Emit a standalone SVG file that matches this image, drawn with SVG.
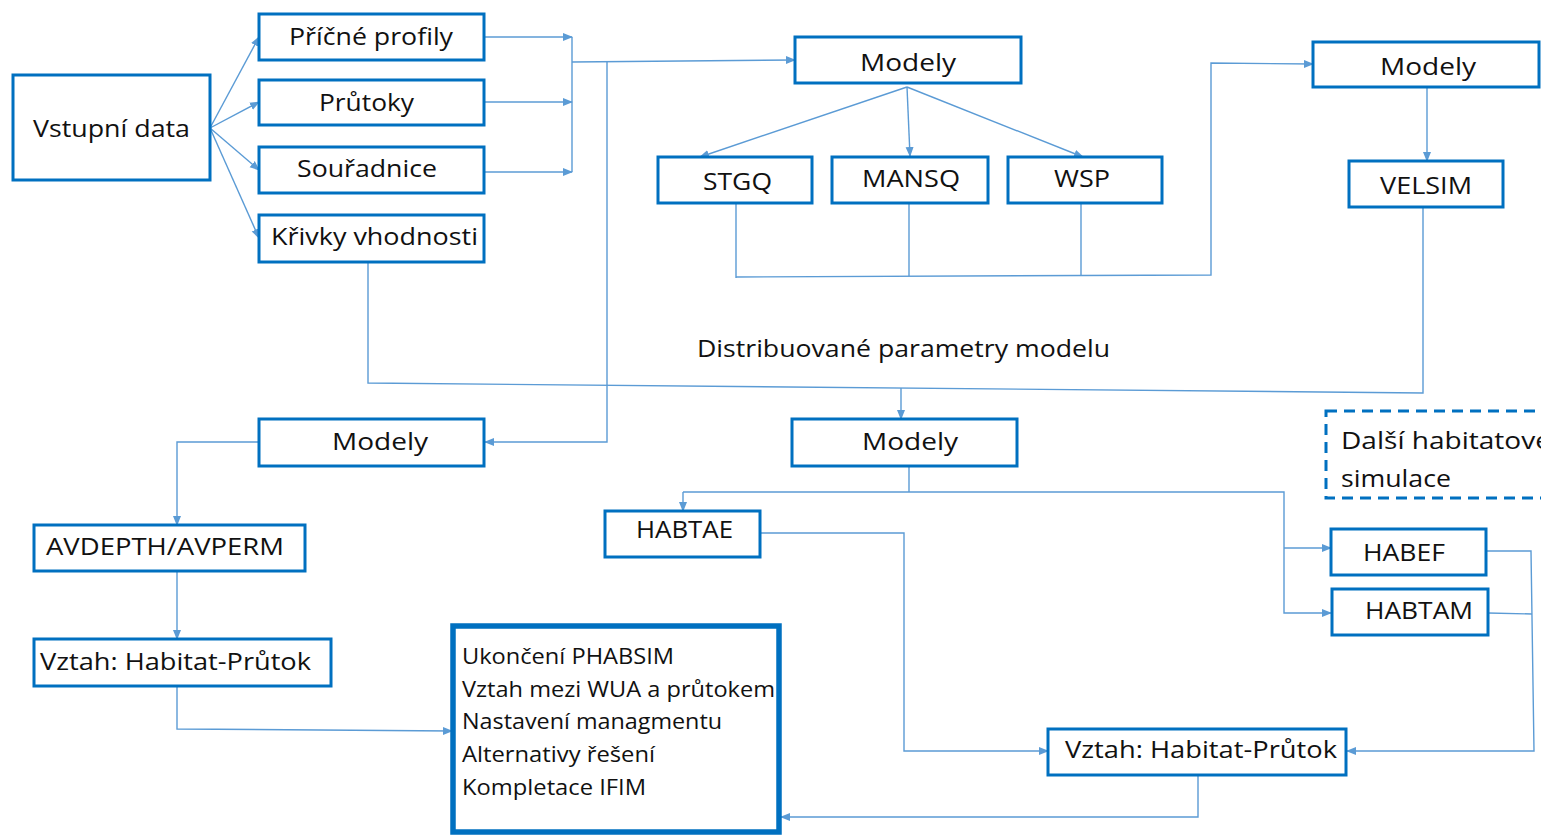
<svg xmlns="http://www.w3.org/2000/svg" width="1541" height="835" viewBox="0 0 1541 835">
<style>
.box{fill:#fff;stroke:#0070C0;stroke-width:3}
.big{fill:#fff;stroke:#0070C0;stroke-width:5.5}
.dash{fill:none;stroke:#0070C0;stroke-width:3;stroke-dasharray:11 7}
.c{fill:none;stroke:#5B9BD5;stroke-width:1.4}
.a{marker-end:url(#ah)}
text{font-family:"Open Sans","Noto Sans","Liberation Sans",sans-serif;font-size:24px;fill:#111}
.s{font-size:22px}
</style>
<defs>
<marker id="ah" markerUnits="userSpaceOnUse" markerWidth="10" markerHeight="10" viewBox="0 0 10 10" refX="9" refY="5" orient="auto">
<path d="M0,1 L10,5 L0,9 z" fill="#5B9BD5"/>
</marker>
</defs>
<rect width="1541" height="835" fill="#fff"/>
<g id="connectors">
<path class="c a" d="M210,128 L259,37"/>
<path class="c a" d="M210,128 L259,102"/>
<path class="c a" d="M210,128 L259,170"/>
<path class="c a" d="M210,128 L259,238"/>
<path class="c a" d="M484,37 L572,37"/>
<path class="c a" d="M484,102 L572,102"/>
<path class="c a" d="M484,172 L572,172"/>
<path class="c" d="M572,37 L572,172"/>
<path class="c a" d="M572,62 L795,60"/>
<path class="c a" d="M607,62 L607,442 L485,442"/>
<path class="c a" d="M907,87 L700,157"/>
<path class="c a" d="M907,87 L910,156"/>
<path class="c a" d="M907,87 L1083,157"/>
<path class="c" d="M736,203 L736,278"/>
<path class="c" d="M909,203 L909,276"/>
<path class="c" d="M1081,203 L1081,276"/>
<path class="c a" d="M736,277 L1211,275 L1211,63 L1313,64"/>
<path class="c a" d="M1427,87 L1427,161"/>
<path class="c" d="M368,262 L368,383 L1423,393 L1423,207"/>
<path class="c a" d="M901,388 L901,419"/>
<path class="c a" d="M259,442 L177,442 L177,525"/>
<path class="c a" d="M177,571 L177,639"/>
<path class="c a" d="M177,686 L177,729 L452,731"/>
<path class="c" d="M909,466 L909,492"/>
<path class="c a" d="M683,492 L1284,492 L1284,613 L1331,613"/>
<path class="c a" d="M683,492 L683,511"/>
<path class="c a" d="M1284,548 L1331,548"/>
<path class="c a" d="M760,533 L904,533 L904,751 L1048,751"/>
<path class="c" d="M1488,613 L1532,614"/>
<path class="c a" d="M1486,551 L1531,551 L1534,751 L1347,751"/>
<path class="c a" d="M1198,775 L1198,817 L781,817"/>
</g>
<g id="vstupni"><rect class="box" x="13" y="75" width="197" height="105"/><text x="33" y="137" textLength="157" lengthAdjust="spacingAndGlyphs">Vstupní data</text></g>
<g id="pricne"><rect class="box" x="259" y="14" width="225" height="46"/><text x="289" y="45" textLength="164" lengthAdjust="spacingAndGlyphs">Příčné profily</text></g>
<g id="prutoky"><rect class="box" x="259" y="80" width="225" height="45"/><text x="319" y="111" textLength="95" lengthAdjust="spacingAndGlyphs">Průtoky</text></g>
<g id="souradnice"><rect class="box" x="259" y="147" width="225" height="46"/><text x="297" y="177" textLength="140" lengthAdjust="spacingAndGlyphs">Souřadnice</text></g>
<g id="krivky"><rect class="box" x="259" y="215" width="225" height="47"/><text x="271" y="245" textLength="207" lengthAdjust="spacingAndGlyphs">Křivky vhodnosti</text></g>
<g id="modely1"><rect class="box" x="795" y="37" width="226" height="46"/><text x="860" y="71" textLength="96" lengthAdjust="spacingAndGlyphs">Modely</text></g>
<g id="stgq"><rect class="box" x="658" y="157" width="154" height="46"/><text x="703" y="190" textLength="69" lengthAdjust="spacingAndGlyphs">STGQ</text></g>
<g id="mansq"><rect class="box" x="832" y="157" width="156" height="46"/><text x="862" y="187" textLength="98" lengthAdjust="spacingAndGlyphs">MANSQ</text></g>
<g id="wsp"><rect class="box" x="1008" y="157" width="154" height="46"/><text x="1054" y="187" textLength="56" lengthAdjust="spacingAndGlyphs">WSP</text></g>
<g id="modely2"><rect class="box" x="1313" y="42" width="226" height="45"/><text x="1380" y="75" textLength="96" lengthAdjust="spacingAndGlyphs">Modely</text></g>
<g id="velsim"><rect class="box" x="1349" y="161" width="154" height="46"/><text x="1380" y="194" textLength="92" lengthAdjust="spacingAndGlyphs">VELSIM</text></g>
<g id="label"><text x="697" y="357" textLength="413" lengthAdjust="spacingAndGlyphs">Distribuované parametry modelu</text></g>
<g id="modely3"><rect class="box" x="259" y="419" width="225" height="47"/><text x="332" y="450" textLength="96" lengthAdjust="spacingAndGlyphs">Modely</text></g>
<g id="modely4"><rect class="box" x="792" y="419" width="225" height="47"/><text x="862" y="450" textLength="96" lengthAdjust="spacingAndGlyphs">Modely</text></g>
<g id="dalsi"><rect class="dash" x="1326" y="411" width="240" height="87"/><text x="1341" y="449" textLength="210" lengthAdjust="spacingAndGlyphs">Další habitatové</text><text x="1341" y="487" textLength="110" lengthAdjust="spacingAndGlyphs">simulace</text></g>
<g id="avdepth"><rect class="box" x="34" y="525" width="271" height="46"/><text x="46" y="555" textLength="238" lengthAdjust="spacingAndGlyphs">AVDEPTH/AVPERM</text></g>
<g id="habtae"><rect class="box" x="605" y="511" width="155" height="46"/><text x="636" y="538" textLength="97" lengthAdjust="spacingAndGlyphs">HABTAE</text></g>
<g id="habef"><rect class="box" x="1331" y="529" width="155" height="46"/><text x="1363" y="561" textLength="82" lengthAdjust="spacingAndGlyphs">HABEF</text></g>
<g id="habtam"><rect class="box" x="1332" y="589" width="156" height="46"/><text x="1365" y="619" textLength="108" lengthAdjust="spacingAndGlyphs">HABTAM</text></g>
<g id="vztah1"><rect class="box" x="34" y="639" width="297" height="47"/><text x="40" y="670" textLength="271" lengthAdjust="spacingAndGlyphs">Vztah: Habitat-Průtok</text></g>
<g id="vztah2"><rect class="box" x="1048" y="729" width="298" height="46"/><text x="1065" y="758" textLength="272" lengthAdjust="spacingAndGlyphs">Vztah: Habitat-Průtok</text></g>
<g id="ukonceni"><rect class="big" x="453" y="626" width="326" height="206"/>
<text class="s" x="462" y="664" textLength="212" lengthAdjust="spacingAndGlyphs">Ukončení PHABSIM</text>
<text class="s" x="462" y="697" textLength="313" lengthAdjust="spacingAndGlyphs">Vztah mezi WUA a průtokem</text>
<text class="s" x="462" y="729" textLength="260" lengthAdjust="spacingAndGlyphs">Nastavení managmentu</text>
<text class="s" x="462" y="762" textLength="193" lengthAdjust="spacingAndGlyphs">Alternativy řešení</text>
<text class="s" x="462" y="795" textLength="184" lengthAdjust="spacingAndGlyphs">Kompletace IFIM</text>
</g>
</svg>
